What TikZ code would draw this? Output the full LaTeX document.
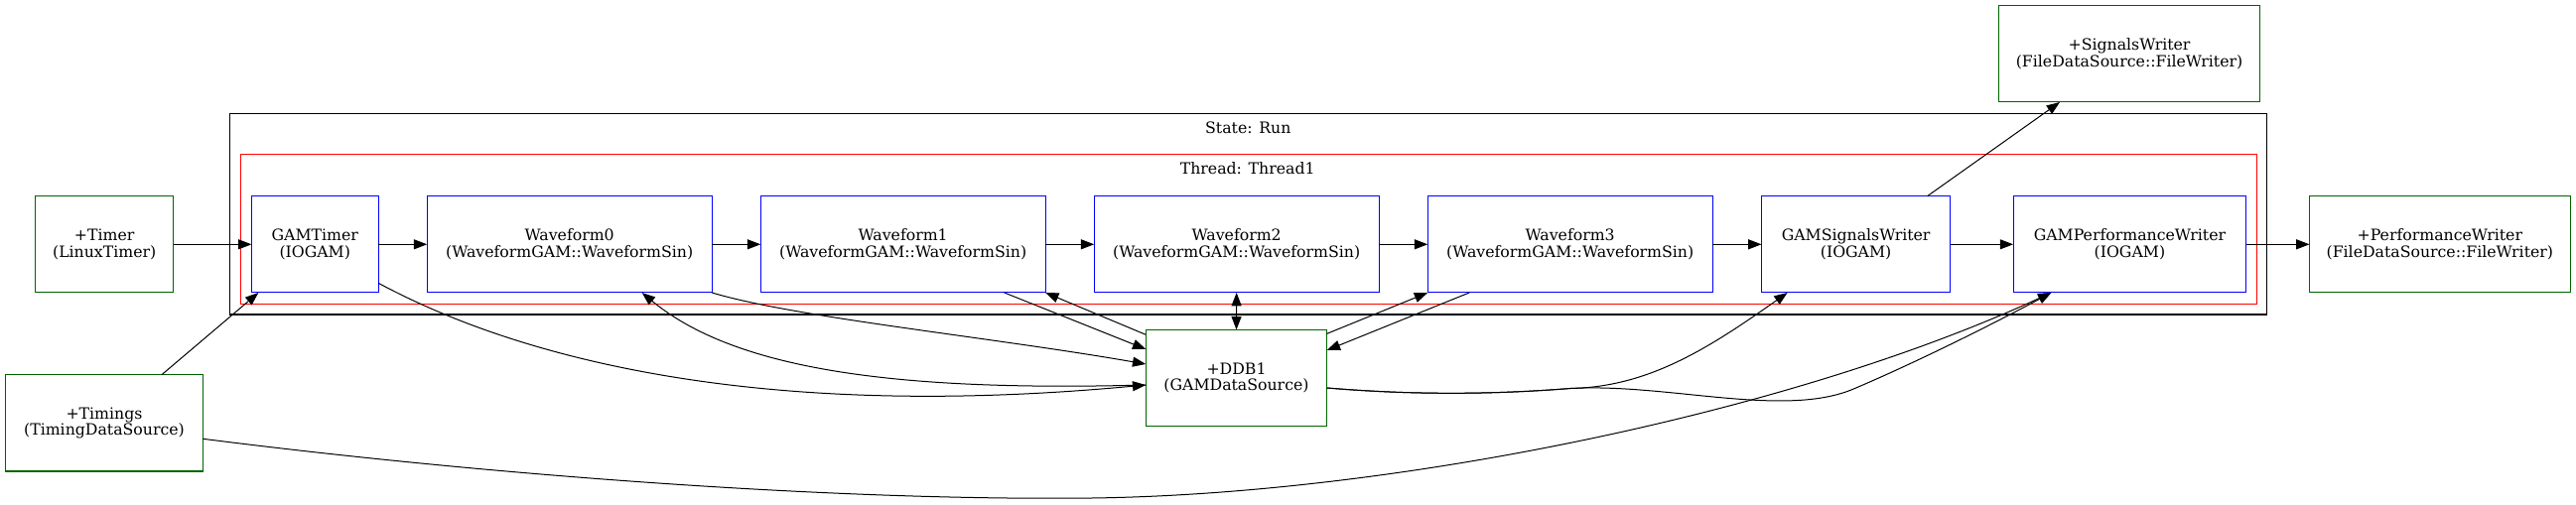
\documentclass[tikz,border=0pt]{standalone}
\usepackage{fontspec}
\setmainfont{DejaVu Serif}
\usetikzlibrary{arrows.meta, positioning, calc}
\definecolor{gvgreen}{HTML}{006400}
\tikzset{
  >={Triangle[length=10pt, width=7.5pt]},
  gam/.style     = {draw=blue, line width=0.8pt, rectangle, minimum height=73pt,
                    inner sep=0pt, outer sep=0pt, align=center},
  wave/.style    = {gam, minimum width=215.2pt},
  src/.style     = {gam, draw=gvgreen},
  cluster/.style = {line width=0.8pt},
  edge/.style    = {->, line width=0.75pt},
}

\begin{document}
\begin{tikzpicture}[
  x=0.75pt, y=-0.75pt,
  every node/.style = {font=\fontsize{11.8pt}{12.5pt}\selectfont}]
  \useasboundingbox (0,0) rectangle (2595,509);

  % ---------- clusters -----------------------------------------------
  \draw[cluster] (231.7,114.7) rectangle (2283.5,317);
  \draw[cluster, red] (242.3,155.3) rectangle (2273.3,306.5);
  \node[inner sep=0pt] (statelbl)  at (1257.3,129) {State: Run};
  \node[inner sep=0pt] (threadlbl) at (1256.7,170) {Thread: Thread1};

  % ---------- main row -----------------------------------------------
  \node[src, minimum width=104.3pt] (timer) at (105.2,246.3) {+Timer\\(LinuxTimer)};
  \node[gam, minimum width=95.8pt, right=59pt of timer] (gamtimer) {GAMTimer\\(IOGAM)};
  \node[wave, right=36.8pt of gamtimer] (wave0) {Waveform0\\(WaveformGAM::WaveformSin)};
  \node[wave, right=36.8pt of wave0] (wave1) {Waveform1\\(WaveformGAM::WaveformSin)};
  \node[wave, right=36.8pt of wave1] (wave2) {Waveform2\\(WaveformGAM::WaveformSin)};
  \node[wave, right=36.8pt of wave2] (wave3) {Waveform3\\(WaveformGAM::WaveformSin)};
  \node[gam, minimum width=142.7pt, right=37pt of wave3] (gsw) {GAMSignalsWriter\\(IOGAM)};
  \node[gam, minimum width=176pt, right=47.5pt of gsw] (gpw) {GAMPerformanceWriter\\(IOGAM)};
  \node[src, minimum width=197pt, right=47.8pt of gpw] (perfw)
    {+PerformanceWriter\\(FileDataSource::FileWriter)};

  % ---------- data sources -------------------------------------------
  \node[src, minimum width=197pt] (sigw) at (2145,54.3)
    {+SignalsWriter\\(FileDataSource::FileWriter)};
  \node[src, minimum width=136.8pt] (ddb) at (1245.5,381) {+DDB1\\(GAMDataSource)};
  \node[src, minimum width=149.1pt] (timings) at (105,426.3) {+Timings\\(TimingDataSource)};

  % ---------- row edges ----------------------------------------------
  \draw[edge] (timer) -- (gamtimer);
  \foreach \a/\b in {gamtimer/wave0, wave0/wave1, wave1/wave2, wave2/wave3,
                     wave3/gsw, gsw/gpw, gpw/perfw}
    \draw[edge] (\a) -- (\b);

  % ---------- timing and writer edges --------------------------------
  \draw[edge] ($(timings.north)+(58,0)$) -- ($(gamtimer.south west)+(7,0)$);
  \draw[edge] ($(gsw.north)+(72,0)$) -- ($(sigw.south)+(-70,0)$);
  \draw[edge] ($(timings.east)+(0,16)$)
    .. controls (500,480) and (850,505) .. (1100,502)
    .. controls (1400,498) and (1800,418) .. ($(gpw.south)+(-79,0)$);

  % ---------- DDB1 edges ---------------------------------------------
  \draw[edge] ($(gamtimer.east)+(0,39)$)
    .. controls (520,360) and (760,425) .. ($(ddb.west)+(0,7)$);
  \draw[edge] (wave0.south east)
    .. controls (800,320) and (1000,340) .. ($(ddb.west)+(0,-14)$);
  \draw[edge] ($(ddb.west)+(0,7)$)
    .. controls (900,395) and (740,372) .. ($(wave0.south)+(73,0)$);
  \draw[edge] ($(wave1.south)+(102,0)$) -- ($(ddb.west)+(0,-29)$);
  \draw[edge] ($(ddb.north west)+(0,5)$) -- (wave1.south east);
  \draw[edge, <->] (ddb.north) -- (wave2.south);
  \draw[edge] ($(ddb.north east)+(0,4)$) -- (wave3.south west);
  \draw[edge] ($(wave3.south west)+(42,0)$) -- ($(ddb.east)+(0,-28)$);
  \draw[edge] ($(ddb.east)+(0,10)$)
    .. controls (1420,398) and (1500,398) .. (1582,391.5)
    .. controls (1660,390) and (1720,352) .. ($(gsw.south)+(-69,0)$);
  \draw[edge] ($(ddb.east)+(0,10)$)
    .. controls (1420,398) and (1500,398) .. (1582,391.5)
    .. controls (1680,386) and (1798,422) .. (1868,391.7)
    .. controls (1940,361) and (2020,320) .. ($(gpw.south)+(-79,0)$);
\end{tikzpicture}
\end{document}
